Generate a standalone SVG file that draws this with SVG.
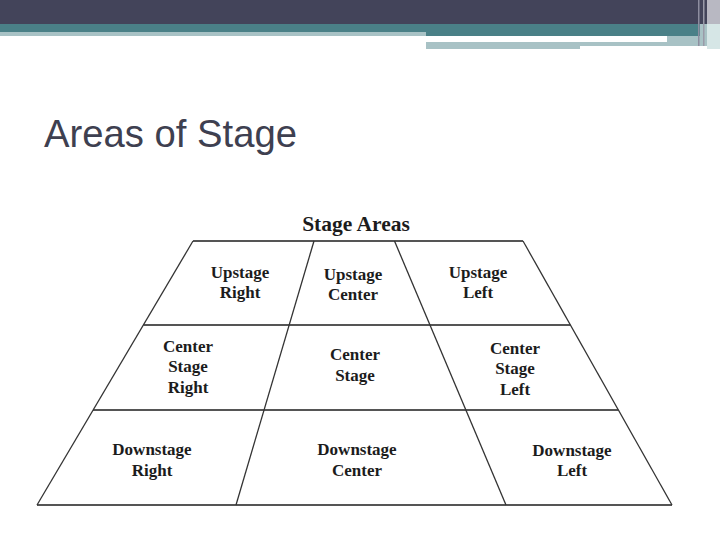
<svg xmlns="http://www.w3.org/2000/svg" width="720" height="540" viewBox="0 0 720 540">
<style>
.lbl{font-family:"Liberation Serif","Times New Roman",serif;font-weight:bold;font-size:17px;fill:#1c1c1c;text-anchor:middle}
.h{stroke:#555;stroke-width:2.2;fill:none}
.s{stroke:#333;stroke-width:1.3;fill:none}
</style>
<rect width="720" height="540" fill="#ffffff"/>
<g id="header">
<rect x="0" y="0" width="720" height="24" fill="#43445a"/>
<rect x="0" y="24" width="700" height="8" fill="#4a8087"/>
<rect x="0" y="32" width="426" height="4" fill="#a8c2c5"/>
<rect x="426" y="32" width="274" height="4" fill="#4a8087"/>
<rect x="426" y="36" width="241" height="3" fill="#ffffff"/>
<rect x="426" y="42" width="281" height="4" fill="#a8c2c5"/>
<rect x="426" y="46" width="154" height="3" fill="#a8c2c5"/>
<rect x="667" y="36" width="40" height="6" fill="#a8c2c5"/>
<rect x="700" y="24" width="20" height="22" fill="#a8c2c5"/>
<rect x="707" y="0" width="13" height="24" fill="#b8b8c2"/>
<rect x="707" y="24" width="13" height="25" fill="#d6e6e6"/>
<rect x="698" y="0" width="1.5" height="46" fill="#8e8ea0"/>
<rect x="703" y="0" width="1.5" height="46" fill="#9a9aa8"/>
</g>
<text x="44" y="147" font-family="Liberation Sans, Arial, sans-serif" font-size="39" fill="#3e4050" textLength="253" lengthAdjust="spacingAndGlyphs">Areas of Stage</text>
<text x="356" y="231" font-family="Liberation Serif, Times New Roman, serif" font-weight="bold" font-size="21.5" fill="#1c1c1c" text-anchor="middle">Stage Areas</text>
<g id="connectors">
<line class="h" x1="193" y1="241" x2="523" y2="241"/>
<line class="h" x1="143.4" y1="325" x2="570.4" y2="325"/>
<line class="h" x1="93" y1="410" x2="618.4" y2="410"/>
<line class="h" x1="37" y1="505" x2="672" y2="505"/>
<line class="s" x1="193" y1="241" x2="37" y2="505"/>
<line class="s" x1="523" y1="241" x2="672" y2="505"/>
<line class="s" x1="314" y1="241" x2="236" y2="505"/>
<line class="s" x1="394.5" y1="241" x2="506" y2="505"/>
</g>
<g id="upstage-right"><text class="lbl" x="240" y="278">Upstage</text><text class="lbl" x="240" y="298">Right</text></g>
<g id="upstage-center"><text class="lbl" x="353" y="280">Upstage</text><text class="lbl" x="353" y="300">Center</text></g>
<g id="upstage-left"><text class="lbl" x="478" y="278">Upstage</text><text class="lbl" x="478" y="298">Left</text></g>
<g id="center-stage-right"><text class="lbl" x="188" y="352">Center</text><text class="lbl" x="188" y="372">Stage</text><text class="lbl" x="188" y="393">Right</text></g>
<g id="center-stage"><text class="lbl" x="355" y="360">Center</text><text class="lbl" x="355" y="381">Stage</text></g>
<g id="center-stage-left"><text class="lbl" x="515" y="354">Center</text><text class="lbl" x="515" y="374">Stage</text><text class="lbl" x="515" y="395">Left</text></g>
<g id="downstage-right"><text class="lbl" x="152" y="455">Downstage</text><text class="lbl" x="152" y="476">Right</text></g>
<g id="downstage-center"><text class="lbl" x="357" y="455">Downstage</text><text class="lbl" x="357" y="476">Center</text></g>
<g id="downstage-left"><text class="lbl" x="572" y="456">Downstage</text><text class="lbl" x="572" y="476">Left</text></g>
</svg>
